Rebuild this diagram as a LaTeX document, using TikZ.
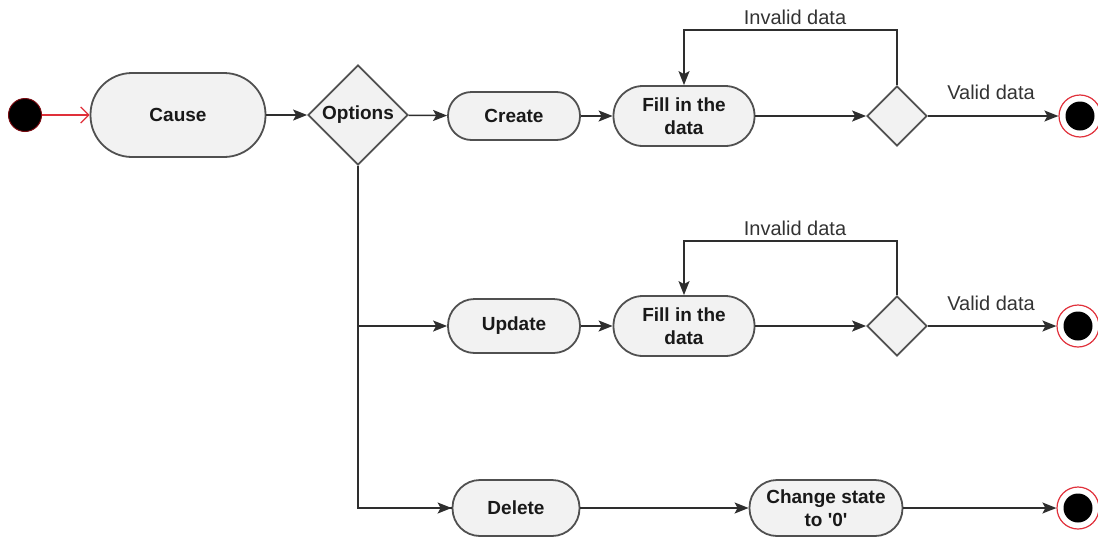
\documentclass[tikz,border=0pt]{standalone}
\usepackage{fontspec}
\setmainfont{Liberation Sans}
\usetikzlibrary{shapes.geometric,arrows.meta}
\definecolor{nodefill}{HTML}{F2F2F2}
\definecolor{nodeline}{HTML}{505050}
\definecolor{wire}{HTML}{2E2E2E}
\definecolor{ring}{HTML}{E0303A}
\definecolor{startedge}{HTML}{7A0A10}
\begin{document}
\begin{tikzpicture}[x=1pt,y=-1pt,
  txt/.style={font=\fontsize{20}{23}\selectfont},
  pill/.style={draw=nodeline, fill=nodefill, line width=1.8pt, rounded corners=#1,
    align=center, inner sep=0pt, text=black!90, font=\bfseries\fontsize{19}{23}\selectfont},
  choice/.style={diamond, draw=nodeline, fill=nodefill, line width=1.8pt, inner sep=0pt,
    aspect=1, text=black!90, font=\bfseries\fontsize{19}{23}\selectfont},
  initial/.style={circle, fill=black, draw=startedge, line width=1pt, minimum size=33pt, inner sep=0pt},
  final/.style={circle, draw=ring, line width=1.2pt, minimum size=42pt, inner sep=0pt,
    path picture={\fill[black] (path picture bounding box.center) circle (14.5pt);}},
  conn/.style={draw=wire, line width=1.5pt, -{Stealth[length=14pt,width=11pt,inset=3pt]}},
  plain/.style={draw=wire, line width=1.5pt},
  redarrow/.style={draw=ring, line width=1.3pt, -{Straight Barb[length=8pt,width=16pt]}},
  lbl/.style={txt, text=black!80, inner sep=0pt}]
\useasboundingbox (0,0) rectangle (1098,536);

% entry part
\node[initial] (start) at (25,115) {};
\node[pill=41.5pt, minimum width=175pt, minimum height=84pt] (cause) at (178,115) {Cause};
\node[choice, minimum width=100pt, minimum height=100pt] (opt) at (358,115) {\raisebox{-3pt}{Options}};

% create branch
\node[pill=23.5pt, minimum width=132pt, minimum height=48pt] (create) at (514,116) {Create};
\node[pill=29.5pt, minimum width=141pt, minimum height=60pt] (fillA) at (684,116) {Fill in the\\data};
\node[choice, minimum width=60pt, minimum height=60pt] (decA) at (897,116) {};
\node[final] (endA) at (1080,116) {};
\node[lbl] (invA) at (795,17) {Invalid data};
\node[lbl] (valA) at (991,92) {Valid data};

% update branch
\node[pill=26.5pt, minimum width=132pt, minimum height=54pt] (update) at (514,326) {Update};
\node[pill=29.5pt, minimum width=141pt, minimum height=60pt] (fillB) at (684,326) {Fill in the\\data};
\node[choice, minimum width=60pt, minimum height=60pt] (decB) at (897,326) {};
\node[final] (endB) at (1078,326) {};
\node[lbl] (invB) at (795,228) {Invalid data};
\node[lbl] (valB) at (991,303) {Valid data};

% delete branch
\node[pill=27.5pt, minimum width=127pt, minimum height=56pt] (delete) at (516,508) {Delete};
\node[pill=27.5pt, minimum width=153pt, minimum height=56pt] (change) at (826,508) {Change state\\to \textquotesingle 0\textquotesingle};
\node[final] (endC) at (1078,508) {};

% connectors
\draw[redarrow] (start) -- (cause);
\draw[conn] (cause) -- (opt);
\draw[conn] (opt) -- (create);
\draw[conn] (create) -- (fillA);
\draw[conn] (fillA) -- (decA);
\draw[conn] (decA) -- (endA);
\draw[conn] (decA.north) -- ++(0,-55) -| (fillA.north);

\draw[plain] (opt.south) |- (delete.west);
\draw[conn] (opt.south |- update.west) -- (update.west);
\draw[conn] (update) -- (fillB);
\draw[conn] (fillB) -- (decB);
\draw[conn] (decB) -- (endB);
\draw[conn] (decB.north) -- ++(0,-54) -| (fillB.north);

\draw[conn] (opt.south |- delete.west) -- (delete.west);
\draw[conn] (delete) -- (change);
\draw[conn] (change) -- (endC);
\end{tikzpicture}
\end{document}
